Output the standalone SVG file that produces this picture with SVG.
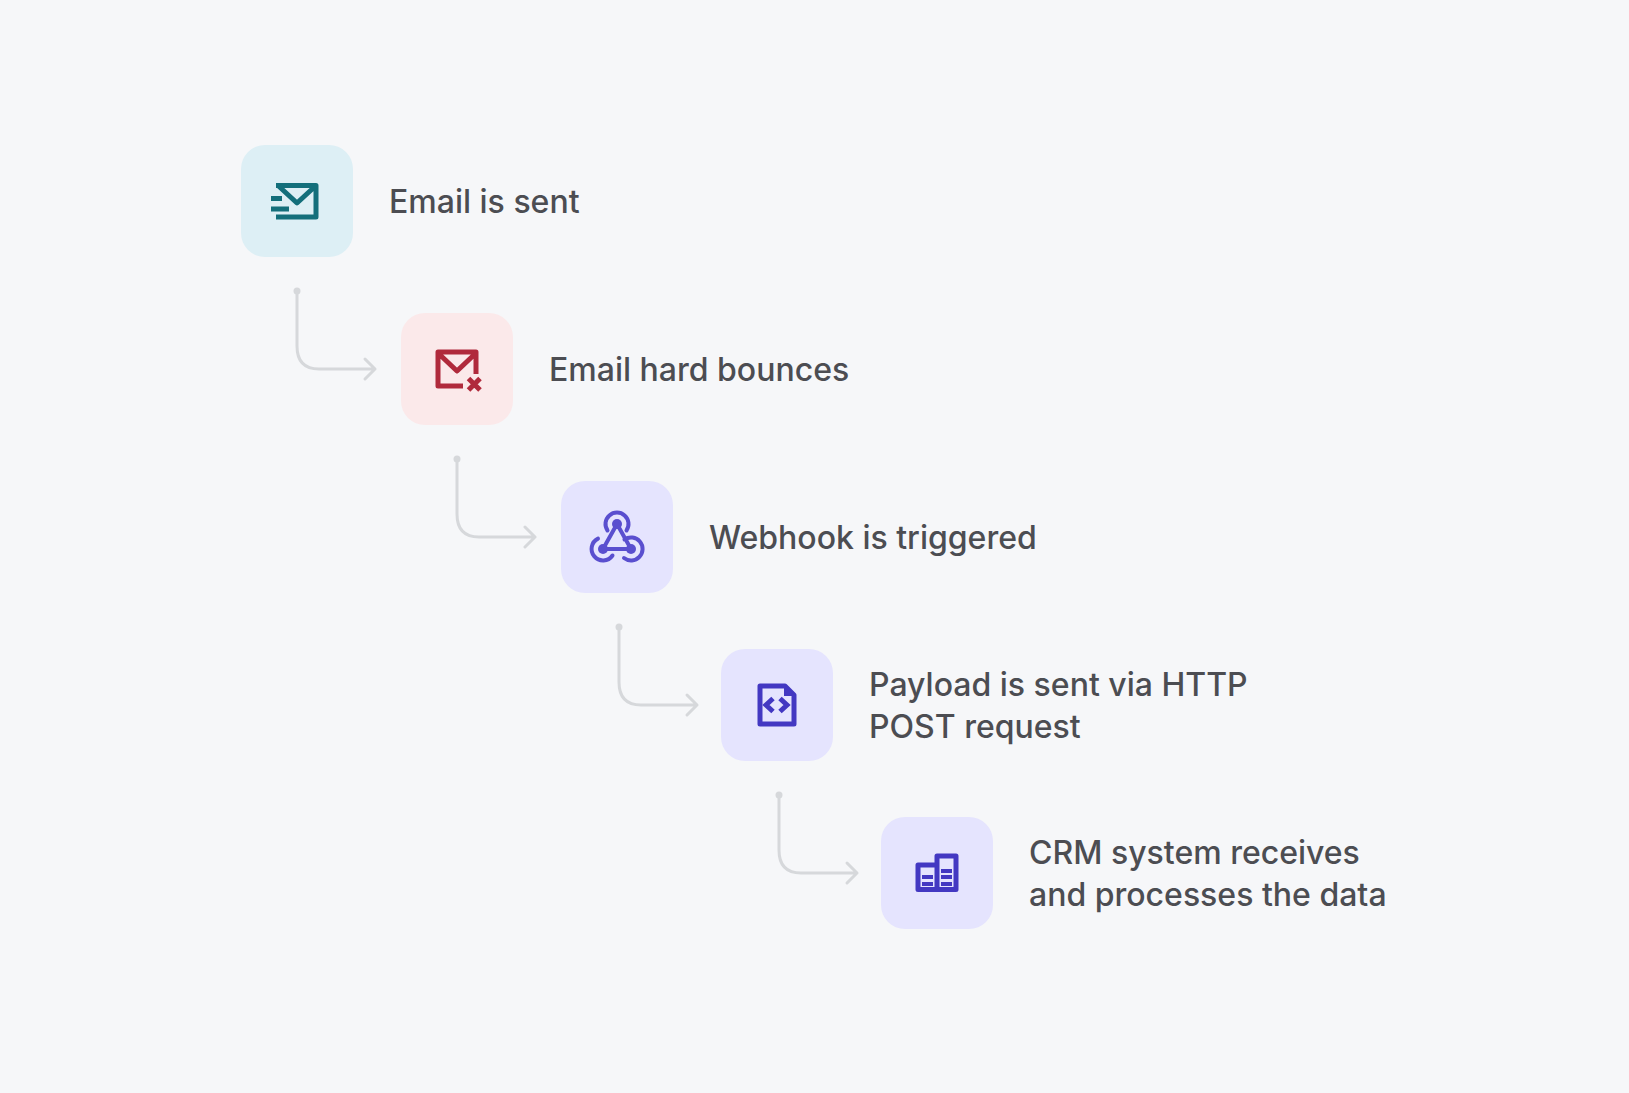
<svg xmlns="http://www.w3.org/2000/svg" width="1629" height="1093" viewBox="0 0 1629 1093">
<style>
.t{font-family:Inter,"Liberation Sans",sans-serif;font-size:32px;font-weight:500;fill:#4c4d52}
.c{fill:none;stroke:#d6d8db;stroke-width:3;stroke-linecap:round;stroke-linejoin:round}
.d{fill:#d6d8db}
.i{fill:none;stroke-width:5;stroke-linejoin:round}
</style>
<rect width="1629" height="1093" fill="#f6f7f9"/>
<g id="connectors">
<g><circle class="d" cx="297" cy="291" r="3.500"/><path class="c" d="M297 291V346Q297 369 319 369H375M365 359L375 369L365 379"/></g>
<g><circle class="d" cx="457" cy="459" r="3.500"/><path class="c" d="M457 459V514Q457 537 479 537H535M525 527L535 537L525 547"/></g>
<g><circle class="d" cx="619" cy="627" r="3.500"/><path class="c" d="M619 627V682Q619 705 641 705H697M687 695L697 705L687 715"/></g>
<g><circle class="d" cx="779" cy="795" r="3.500"/><path class="c" d="M779 795V850Q779 873 801 873H857M847 863L857 873L847 883"/></g>
</g>
<g id="node-email-sent">
<rect x="241" y="145" width="112" height="112" rx="24" fill="#ddeff5"/>
<path class="i" stroke="#136f7b" d="M276 185.500H316V217H276M278 185.500L297 203L316 185.500M271 198.500H282M271 209H289"/>
<text class="t" x="389" y="213">Email is sent</text>
</g>
<g id="node-hard-bounce">
<rect x="401" y="313" width="112" height="112" rx="24" fill="#fbe9ea"/>
<path class="i" stroke="#b02a3c" d="M463 386H438V352H476V374M438 353L457 371L476 353"/>
<path fill="none" stroke="#b02a3c" stroke-width="5" d="M468.500 378.500L480 390M480 378.500L468.500 390"/>
<text class="t" x="549" y="381">Email hard bounces</text>
</g>
<g id="node-webhook">
<rect x="561" y="481" width="112" height="112" rx="24" fill="#e5e4fe"/>
<g fill="#5a4fcf"><circle cx="617" cy="524" r="5"/><circle cx="603" cy="549" r="5"/><circle cx="631" cy="549" r="5"/></g>
<path fill="none" stroke="#5a4fcf" stroke-width="4" stroke-linecap="round" d="M617 524L603 549M617 524L631 549M603 549H631M607.500 530.500A11.500 11.500 0 1 1 626.500 530.500M598 538.600A11.500 11.500 0 1 0 612.500 555.500M624.500 539.500A11.500 11.500 0 1 1 624 558"/>
<text class="t" x="709" y="549">Webhook is triggered</text>
</g>
<g id="node-payload">
<rect x="721" y="649" width="112" height="112" rx="24" fill="#e5e4fe"/>
<path class="i" stroke="#4338c2" d="M760 686H785L794 695V724H760Z"/>
<path fill="#4338c2" d="M784 684L796 696H784Z"/>
<path fill="none" stroke="#4338c2" stroke-width="5" d="M773 698.500L766 705L773 711.500M780 698.500L787 705L780 711.500"/>
<text class="t"><tspan x="869" y="696">Payload is sent via HTTP</tspan><tspan x="869" y="738">POST request</tspan></text>
</g>
<g id="node-crm">
<rect x="881" y="817" width="112" height="112" rx="24" fill="#e5e4fe"/>
<path class="i" stroke="#4338c2" d="M918 865H937V889.500H918ZM937 856H956V889.500H937Z"/>
<path fill="#4338c2" d="M922 875H933V879H922ZM922 882H933V886H922ZM941 869H952V873H941ZM941 875H952V879H941ZM941 882H952V886H941Z"/>
<text class="t"><tspan x="1029" y="864">CRM system receives</tspan><tspan x="1029" y="906">and processes the data</tspan></text>
</g>
</svg>
